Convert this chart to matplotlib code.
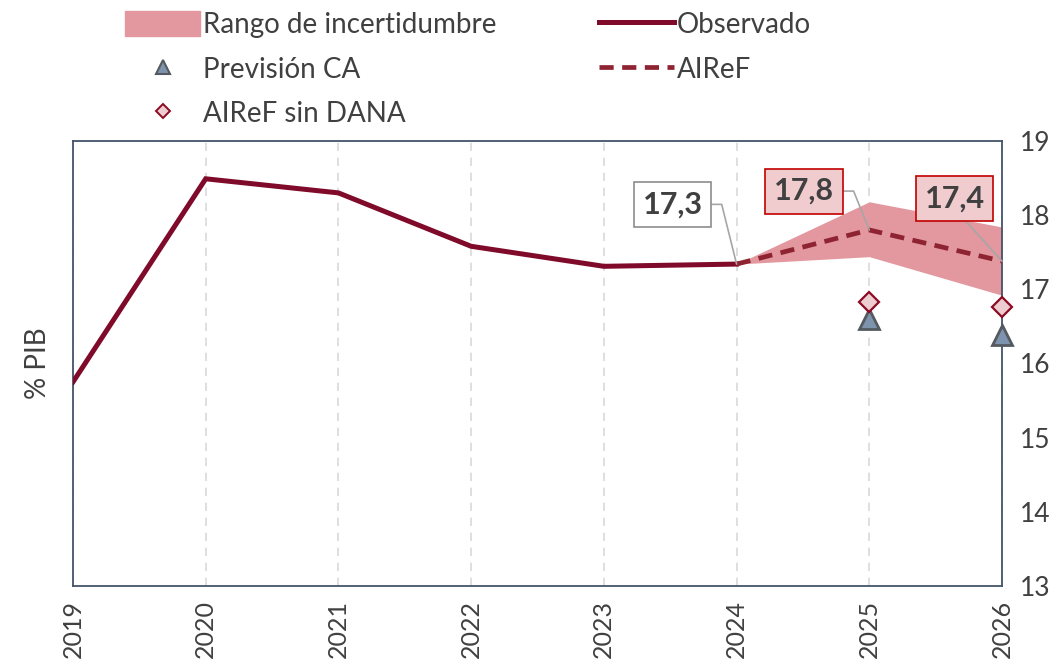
import matplotlib.pyplot as plt
import matplotlib.patches as mpatches
from matplotlib.lines import Line2D

# Estilo general
plt.rcParams.update({
    'font.family': ['Lato', 'DejaVu Sans'],
    'font.size': 20,
    'text.color': '#404040',
    'axes.labelcolor': '#404040',
    'xtick.color': '#404040',
    'ytick.color': '#404040',
})

# --- Datos ---
years_obs = [2019, 2020, 2021, 2022, 2023, 2024]
observado = [15.75, 18.49, 18.30, 17.58, 17.31, 17.34]

years_fc = [2024, 2025, 2026]
airef = [17.34, 17.80, 17.38]
rango_low = [17.34, 17.44, 16.92]
rango_high = [17.34, 18.18, 17.84]

years_pts = [2025, 2026]
prevision_ca = [16.60, 16.38]
airef_sin_dana = [16.83, 16.76]

all_years = list(range(2019, 2027))

# Colores
c_obs = '#7F0A2A'
c_airef = '#8E2432'
c_band = '#E3979F'
c_tri = '#7D93AE'
c_tri_edge = '#555A5F'
c_dia = '#EECDD0'
c_dia_edge = '#8B0A24'
c_spine = '#44546A'

fig = plt.figure(figsize=(10.56, 6.70), dpi=100)
ax = fig.add_axes([0.0691, 0.1254, 0.8798, 0.6642])

ax.fill_between(years_fc, rango_low, rango_high, color=c_band, linewidth=0, zorder=2)
ax.plot(years_obs, observado, '-', color=c_obs, linewidth=3.6, zorder=3, solid_joinstyle='miter')
ax.plot(years_fc, airef, color=c_airef, linewidth=3.4, linestyle=(0, (3, 1.8)), zorder=3)
ax.plot(years_pts, prevision_ca, '^', color=c_tri, markeredgecolor=c_tri_edge,
        markeredgewidth=2, markersize=15, linestyle='none', zorder=4, clip_on=False)
ax.plot(years_pts, airef_sin_dana, 'D', color=c_dia, markeredgecolor=c_dia_edge,
        markeredgewidth=1.6, markersize=10, linestyle='none', zorder=5, clip_on=False)

# Etiquetas de valores
def fmt(v):
    return f'{v:.1f}'.replace('.', ',')

ax.annotate(fmt(observado[-1]), xy=(years_obs[-1], observado[-1]), xytext=(-46, 43),
            textcoords='offset points', ha='center', va='center', fontsize=22, fontweight='bold',
            bbox=dict(boxstyle='square,pad=0.28', facecolor='white', edgecolor='#8C8C8C', linewidth=1.2),
            arrowprops=dict(arrowstyle='-', color='#A6A6A6', linewidth=1.2, relpos=(1, 0.5),
                            shrinkA=0, shrinkB=0,
                            connectionstyle='angle,angleA=0,angleB=104,rad=0'),
            zorder=6)
ax.annotate(fmt(airef[1]), xy=(years_fc[1], airef[1]), xytext=(-47, 28),
            textcoords='offset points', ha='center', va='center', fontsize=22, fontweight='bold',
            bbox=dict(boxstyle='square,pad=0.28', facecolor='#F0CCCF', edgecolor='#C00000', linewidth=1.2),
            arrowprops=dict(arrowstyle='-', color='#A6A6A6', linewidth=1.2, relpos=(1, 0.5),
                            shrinkA=0, shrinkB=0,
                            connectionstyle='angle,angleA=0,angleB=112,rad=0'),
            zorder=6)
ax.annotate(fmt(airef[2]), xy=(years_fc[2], airef[2]), xytext=(-34, 45),
            textcoords='offset points', ha='center', va='center', fontsize=22, fontweight='bold',
            bbox=dict(boxstyle='square,pad=0.28', facecolor='#F0CCCF', edgecolor='#C00000', linewidth=1.2),
            arrowprops=dict(arrowstyle='-', color='#A6A6A6', linewidth=1.2, relpos=(0.55, 0),
                            shrinkA=0, shrinkB=0),
            zorder=6)

# Ejes
ax.set_xlim(2019, 2026)
ax.set_ylim(13, 19)
ax.set_xticks(all_years)
ax.set_xticklabels([str(y) for y in all_years], rotation=90, va='top')
ax.set_yticks(range(13, 20))
ax.yaxis.tick_right()
ax.tick_params(axis='y', length=0, pad=13, labelsize=19)
ax.tick_params(axis='x', length=0, pad=10, labelsize=18)
ax.set_ylabel('% PIB', fontsize=20, labelpad=16)
ax.yaxis.set_label_position('left')

ax.grid(axis='x', color='#D9D9D9', linestyle=(0, (5, 4)), linewidth=1.2)
ax.grid(axis='y', visible=False)
ax.set_axisbelow(True)
for s in ax.spines.values():
    s.set_color(c_spine)
    s.set_linewidth(1.3)

# Leyenda
handles = [
    mpatches.Patch(color=c_band, label='Rango de incertidumbre'),
    Line2D([], [], marker='^', color=c_tri, markeredgecolor=c_tri_edge, markeredgewidth=1.5,
           markersize=10, linestyle='none', label='Previsión CA'),
    Line2D([], [], marker='D', color=c_dia, markeredgecolor=c_dia_edge, markeredgewidth=1.4,
           markersize=7, linestyle='none', label='AIReF sin DANA'),
    Line2D([], [], color=c_obs, linewidth=3.6, label='Observado'),
    Line2D([], [], color=c_airef, linewidth=3.4, linestyle=(0, (3, 1.8)), label='AIReF'),
]
fig.legend(handles=handles, ncol=2, loc='upper left', bbox_to_anchor=(125 / 1056, 1 - 11 / 670),
           frameon=False, fontsize=20, handlelength=2.7, handleheight=1.0, handletextpad=0.1,
           columnspacing=3.7, labelspacing=0.64, borderpad=0, borderaxespad=0)

plt.savefig('out.png', dpi=100)
plt.close()
